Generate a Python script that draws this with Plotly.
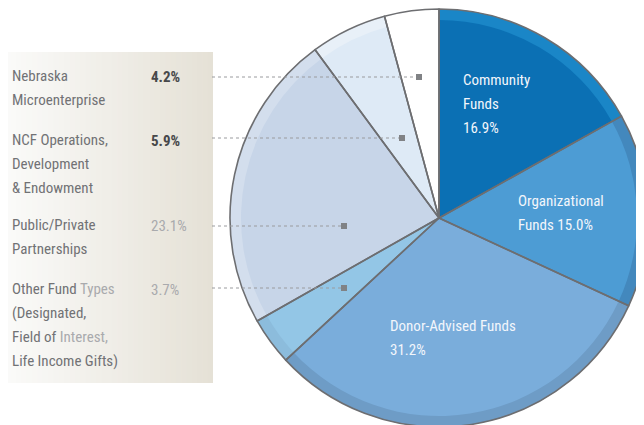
import plotly.graph_objects as go

# ---------------- data ----------------
categories = ["Community Funds", "Organizational Funds", "Donor-Advised Funds",
              "Other Fund Types", "Public/Private Partnerships",
              "NCF Operations, Development & Endowment", "Nebraska Microenterprise"]
values = [16.9, 15.0, 31.2, 3.7, 23.1, 5.9, 4.2]
value_labels = ["16.9%", "15.0%", "31.2%", "3.7%", "23.1%", "5.9%", "4.2%"]

inside_labels = [
    (0, ["Community", "Funds", value_labels[0]]),
    (1, ["Organizational", "Funds " + value_labels[1]]),
    (2, ["Donor-Advised Funds", value_labels[2]]),
]
LIGHT = "#a9aaad"
side_labels = [
    (6, ["Nebraska", "Microenterprise"]),
    (5, ["NCF Operations,", "Development", "& Endowment"]),
    (4, ["Public/Private", "Partnerships"]),
    (3, ["Other Fund <span style='color:%s'>Types</span>" % LIGHT, "(Designated,",
         "Field of <span style='color:%s'>Interest,</span>" % LIGHT, "Life Income Gifts)"]),
]

# ---------------- style ----------------
OFF = 8                 # page margin offset of the figure
FW, FH = 664, 444       # figure size (visible part is the 644x425 window)
FONT = "Roboto Condensed, DejaVu Sans Condensed, sans-serif"
colors = ["#0b70b4", "#4d9cd4", "#7aaddb", "#93c6e6", "#c7d5e8", "#deeaf6", "#ffffff"]
rim_colors = ["#1a86c7", "#4388bd", "#6e9cc6", "#8cbcdc", "#d3deed", "#e8f0f8", "#ffffff"]
edge = "#6d6e71"

def px(x):
    return (x - OFF) / FW

def py(y):
    return 1 - (y - OFF) / FH

cx, cy, r = 439, 218, 209
dom_x = [px(cx - r), px(cx + r)]
dom_y = [py(cy + r), py(cy - r)]

fig = go.Figure()
common = dict(labels=categories, values=values, sort=False, direction="clockwise",
              rotation=0, textinfo="none", showlegend=False,
              domain=dict(x=dom_x, y=dom_y))
fig.add_trace(go.Pie(marker=dict(colors=colors, line=dict(width=0)),
                     hoverinfo="label+percent", **common))
fig.add_trace(go.Pie(hole=1 - 11 / r, marker=dict(colors=rim_colors, line=dict(width=0)),
                     hoverinfo="skip", **common))
fig.add_trace(go.Pie(marker=dict(colors=["rgba(0,0,0,0)"] * len(values),
                                 line=dict(color=edge, width=1.6)),
                     hoverinfo="skip", **common))

shapes = []
annotations = []

panel_x0, panel_x1, panel_y0, panel_y1 = 0, 213, 52, 383
c0 = (251, 251, 250)
c1 = (229, 225, 214)
n = 40
for i in range(n):
    t = i / (n - 1)
    col = tuple(int(round(c0[k] + (c1[k] - c0[k]) * t)) for k in range(3))
    xa = panel_x0 + (panel_x1 - panel_x0) * i / n
    xb = min(panel_x0 + (panel_x1 - panel_x0) * (i + 1) / n + 0.6, panel_x1)
    shapes.append(dict(type="rect", xref="paper", yref="paper",
                       x0=max(px(xa), 0), x1=px(xb), y0=py(panel_y1), y1=py(panel_y0),
                       fillcolor="rgb(%d,%d,%d)" % col, line=dict(width=0), layer="below"))

group_first_y = {6: 76, 5: 140, 4: 225, 3: 289}
line_gap = 24
pct_style = {6: ("#47484a", 700), 5: ("#47484a", 700), 4: (LIGHT, 400), 3: (LIGHT, 400)}
marker_pos = {6: (419, 77), 5: (402, 138), 4: (344, 226), 3: (344, 288)}
label_color = "#717275"

for idx, lines in side_labels:
    y0 = group_first_y[idx]
    for j, line in enumerate(lines):
        annotations.append(dict(x=px(10), y=py(y0 + j * line_gap), xref="paper", yref="paper",
                                xanchor="left", yanchor="middle", showarrow=False, text=line,
                                font=dict(family=FONT, size=15, color=label_color, weight=400)))
    pc, wt = pct_style[idx]
    annotations.append(dict(x=px(149), y=py(y0 + 1), xref="paper", yref="paper",
                            xanchor="left", yanchor="middle", showarrow=False,
                            text=value_labels[idx],
                            font=dict(family=FONT, size=15, color=pc, weight=wt)))
    mx, my = marker_pos[idx]
    shapes.append(dict(type="line", xref="paper", yref="paper", x0=px(212), x1=px(mx),
                       y0=py(my), y1=py(my), line=dict(color="#9a9b9e", width=1, dash="dot"),
                       layer="above"))
    shapes.append(dict(type="rect", xref="paper", yref="paper", x0=px(mx - 3), x1=px(mx + 3),
                       y0=py(my + 3), y1=py(my - 3), fillcolor="#808285",
                       line=dict(width=0), layer="above"))

inside_pos = {0: (461, 80), 1: (516, 201), 2: (388, 326)}
for idx, lines in inside_labels:
    x0, y0 = inside_pos[idx]
    for j, line in enumerate(lines):
        annotations.append(dict(x=px(x0), y=py(y0 + j * 24), xref="paper", yref="paper",
                                xanchor="left", yanchor="middle", showarrow=False, text=line,
                                font=dict(family=FONT, size=15, color="#f2f6fb", weight=400)))

fig.update_layout(
    width=FW, height=FH, margin=dict(l=0, r=0, t=0, b=0),
    paper_bgcolor="white", plot_bgcolor="white",
    shapes=shapes, annotations=annotations, showlegend=False,
)
fig.write_html("out.html")
